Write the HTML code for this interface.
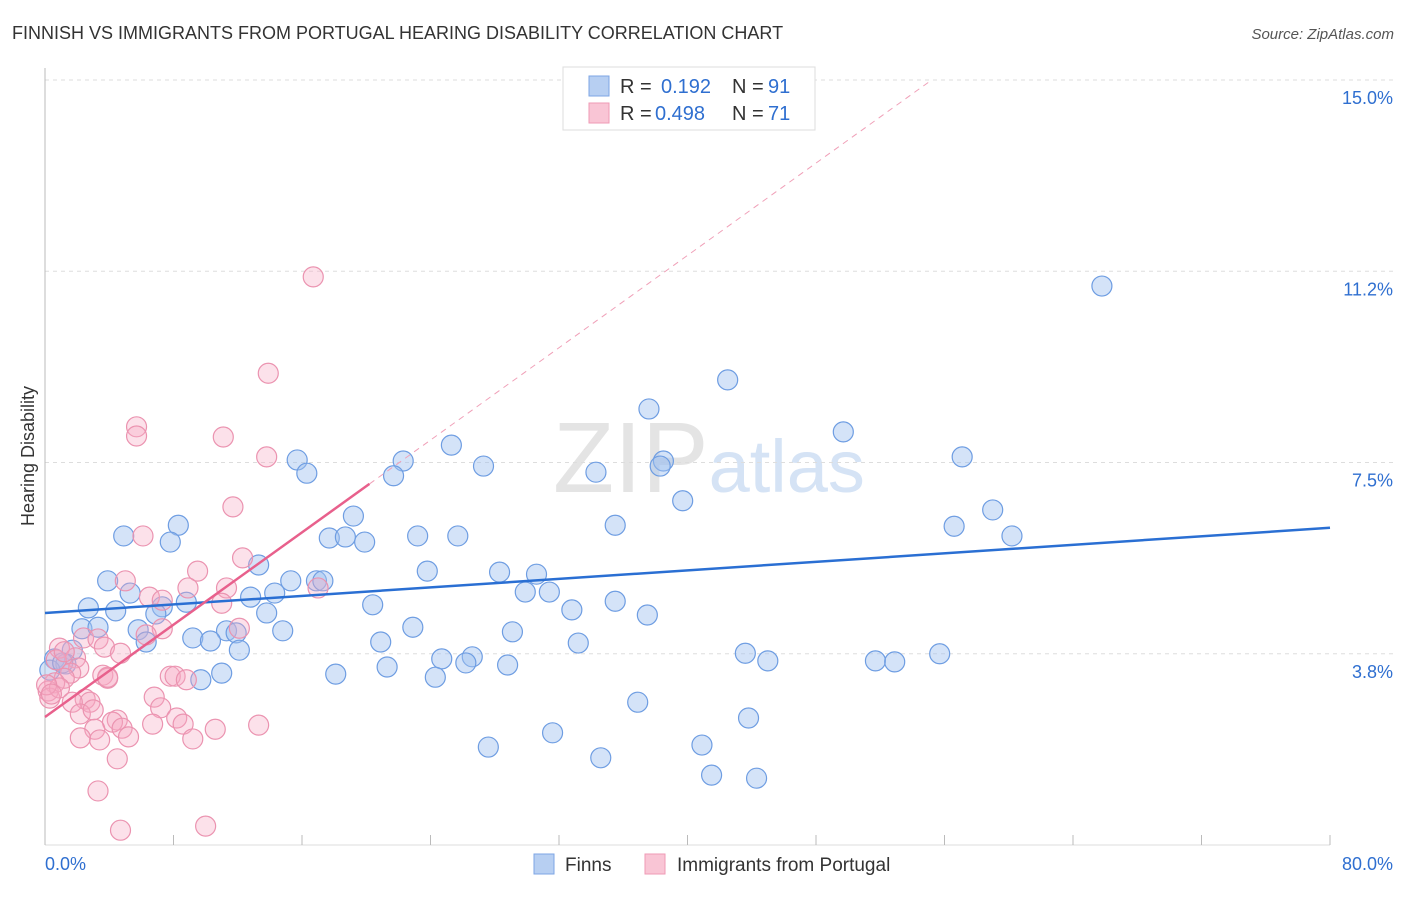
<!DOCTYPE html>
<html><head><meta charset="utf-8">
<style>
body{margin:0;background:#fff;font-family:"Liberation Sans",sans-serif;}
svg text{font-family:"Liberation Sans",sans-serif;}
</style></head>
<body>
<svg id="chart" width="1406" height="892" xmlns="http://www.w3.org/2000/svg">
<text x="12" y="39" font-size="18" fill="#333">FINNISH VS IMMIGRANTS FROM PORTUGAL HEARING DISABILITY CORRELATION CHART</text>
<text x="1394" y="39" font-size="15" fill="#555" text-anchor="end" font-style="italic">Source: ZipAtlas.com</text>
<text x="553" y="492" font-size="100" fill="#e4e4e4" font-family="Liberation Serif">ZIP<tspan fill="#d5e3f5" font-family="Liberation Sans" font-size="74">atlas</tspan></text>
<g id="grid"></g>
<g id="axes"></g>
<g id="pts"></g>
<g id="trend"></g>
<text transform="translate(34,456) rotate(-90)" font-size="18" fill="#333" text-anchor="middle">Hearing Disability</text>
<g>
<rect x="563" y="67" width="252" height="63" fill="#fff" stroke="#ddd"/>
<rect x="589" y="76" width="20" height="20" fill="#b7cff2" stroke="#7da6e4"/>
<rect x="589" y="103" width="20" height="20" fill="#f9c5d5" stroke="#ef9ab5"/>
<text x="620" y="93" font-size="20" fill="#333">R =</text><text x="661" y="93" font-size="20" fill="#2f6fd0">0.192</text>
<text x="732" y="93" font-size="20" fill="#333">N =</text><text x="768" y="93" font-size="20" fill="#2f6fd0">91</text>
<text x="620" y="120" font-size="20" fill="#333">R =</text><text x="655" y="120" font-size="20" fill="#2f6fd0">0.498</text>
<text x="732" y="120" font-size="20" fill="#333">N =</text><text x="768" y="120" font-size="20" fill="#2f6fd0">71</text>
</g>
<g>
<rect x="534" y="854" width="20" height="20" fill="#b7cff2" stroke="#7da6e4"/>
<text x="565" y="871" font-size="19" fill="#333">Finns</text>
<rect x="645" y="854" width="20" height="20" fill="#f9c5d5" stroke="#ef9ab5"/>
<text x="677" y="871" font-size="19" fill="#333">Immigrants from Portugal</text>
</g>
</svg>
<script>
const yTicks=[3.75,7.5,11.25,15];
const yTickLabels=["3.8%","7.5%","11.2%","15.0%"];
const xTicks=[0,8,16,24,32,40,48,56,64,72,80];
const blueX=[65.8,42.5,37.6,49.7,25.3,22.3,15.7,16.3,21.7,27.3,34.3,38.5,38.3,57.1,39.7,59.0,56.6,60.2,35.5,19.2,8.3,4.9,7.8,17.7,18.7,19.9,23.2,25.7,13.3,23.8,28.3,30.6,3.9,15.3,16.9,17.3,5.3,12.8,14.3,29.9,31.4,20.4,35.5,2.7,4.4,8.8,7.3,6.9,13.8,32.8,37.5,2.3,3.3,5.8,22.9,29.1,14.8,11.3,11.9,9.2,10.3,20.9,33.2,6.3,1.7,0.6,1.3,12.1,24.7,26.6,26.2,43.6,45.0,51.7,52.9,55.7,21.3,28.8,11.0,9.7,18.1,24.3,0.3,36.9,43.8,31.6,27.6,40.9,34.6,41.5,44.3,1.1];
const blueY=[10.96,9.12,8.55,8.10,7.84,7.53,7.55,7.29,7.24,7.43,7.31,7.53,7.43,7.61,6.75,6.57,6.25,6.06,6.27,6.45,6.27,6.06,5.94,6.02,6.04,5.94,6.06,6.06,5.49,5.37,5.35,5.31,5.18,5.18,5.18,5.18,4.94,4.86,4.94,4.96,4.96,4.71,4.78,4.65,4.59,4.76,4.67,4.53,4.55,4.61,4.51,4.24,4.27,4.22,4.27,4.18,4.20,4.20,4.16,4.06,4.00,3.98,3.96,3.98,3.82,3.65,3.55,3.82,3.65,3.69,3.57,3.76,3.61,3.61,3.59,3.75,3.49,3.53,3.37,3.24,3.35,3.29,3.43,2.80,2.49,2.20,1.92,1.96,1.71,1.37,1.31,3.57];
const pinkX=[16.7,13.9,5.7,5.7,11.1,13.8,11.7,6.1,12.3,9.5,5.0,8.9,11.3,17.0,6.5,7.3,11.0,7.3,6.3,12.1,2.4,3.3,3.7,4.7,0.9,1.9,2.1,1.6,1.2,0.6,0.2,0.3,0.9,3.6,3.9,2.5,2.8,7.8,8.1,8.8,6.8,1.7,2.2,3.0,4.5,4.2,7.2,8.2,8.6,10.6,13.3,6.7,4.8,3.1,5.2,3.4,2.2,9.2,4.5,3.3,4.7,10.0,0.1,0.7,1.2,0.4,3.9];
const pinkY=[11.14,9.25,8.20,8.02,8.00,7.61,6.63,6.06,5.63,5.37,5.18,5.04,5.04,5.04,4.86,4.80,4.74,4.24,4.12,4.25,4.06,4.04,3.88,3.76,3.86,3.67,3.47,3.37,3.27,3.18,3.02,2.88,3.08,3.33,3.27,2.86,2.80,3.31,3.31,3.24,2.90,2.80,2.57,2.65,2.45,2.41,2.69,2.49,2.37,2.27,2.35,2.37,2.29,2.27,2.12,2.06,2.10,2.08,1.69,1.06,0.29,0.37,3.14,3.63,3.79,2.96,3.29];
const blueTrend=[[0,4.55],[80,6.22]];
const pinkTrend=[[0,2.51],[20.2,7.08]];
const pinkDash=[[20.2,7.08],[55.2,15.0]];
const NS="http://www.w3.org/2000/svg";
const X0=45,X1=1330,Y0=845,PPY=51;
const sx=v=>X0+(v/80)*(X1-X0);
const sy=v=>Y0-v*PPY;
function mk(tag,attrs,parent){const e=document.createElementNS(NS,tag);for(const k in attrs)e.setAttribute(k,attrs[k]);parent.appendChild(e);return e;}
const grid=document.getElementById('grid'),axes=document.getElementById('axes'),pts=document.getElementById('pts'),trend=document.getElementById('trend');
yTicks.forEach((t,i)=>{
 const l=mk('line',{x1:X0,x2:1395,y1:sy(t),y2:sy(t),stroke:'#ddd','stroke-dasharray':'4,4'},grid);
 
 
 const tx=mk('text',{x:1393,y:sy(t)+24,'font-size':18,fill:'#2f6fd0','text-anchor':'end'},grid);
 tx.textContent=yTickLabels[i];
 
 
});
mk('line',{x1:X0,x2:X0,y1:68,y2:Y0,stroke:'#bbb'},axes);
mk('line',{x1:X0,x2:X1,y1:Y0,y2:Y0,stroke:'#ddd'},axes);
xTicks.forEach(t=>{const l=mk('line',{x1:sx(t),x2:sx(t),y1:Y0-10,y2:Y0,stroke:'#bbb'},axes);
 
 });
const xl=mk('text',{x:45,y:870,'font-size':18,fill:'#2f6fd0'},axes);xl.textContent='0.0%';


const xr=mk('text',{x:1393,y:870,'font-size':18,fill:'#2f6fd0','text-anchor':'end'},axes);xr.textContent='80.0%';


blueX.forEach((v,i)=>{const c=mk('circle',{cx:sx(v),cy:sy(blueY[i]),r:10,fill:'rgba(160,194,240,0.45)',stroke:'#6e9de2','stroke-width':1.2},pts);
 
 });
pinkX.forEach((v,i)=>{const c=mk('circle',{cx:sx(v),cy:sy(pinkY[i]),r:10,fill:'rgba(246,170,196,0.35)',stroke:'#eb93b0','stroke-width':1.2},pts);
 
 });
const bl=mk('line',{x1:sx(blueTrend[0][0]),y1:sy(blueTrend[0][1]),x2:sx(blueTrend[1][0]),y2:sy(blueTrend[1][1]),stroke:'#2a6fd3','stroke-width':2.5},trend);


const pl=mk('line',{x1:sx(pinkTrend[0][0]),y1:sy(pinkTrend[0][1]),x2:sx(pinkTrend[1][0]),y2:sy(pinkTrend[1][1]),stroke:'#e8608c','stroke-width':2.5},trend);


const pd=mk('line',{x1:sx(pinkDash[0][0]),y1:sy(pinkDash[0][1]),x2:sx(pinkDash[1][0]),y2:sy(pinkDash[1][1]),stroke:'#f0a0b8','stroke-width':1,'stroke-dasharray':'6,5'},trend);


</script>
</body></html>
